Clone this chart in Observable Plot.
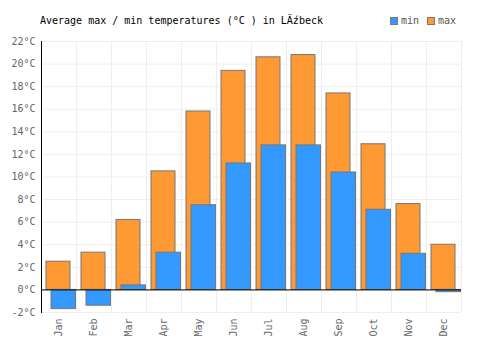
<!DOCTYPE html>
<html><head><meta charset="utf-8">
<script src="https://cdn.jsdelivr.net/npm/d3@7"></script>
<script src="https://cdn.jsdelivr.net/npm/@observablehq/plot@0.6"></script>
<style>
body{margin:0;background:#fff;}
#wrap{position:relative;width:500px;height:350px;font-family:"DejaVu Sans Mono",monospace;}
#title{position:absolute;left:40px;top:15px;font-size:10px;color:#000;white-space:pre;}
#legend{position:absolute;left:390px;top:15px;font-size:10px;color:#555;display:flex;align-items:center;}
.sw{display:inline-block;width:6px;height:6px;border:1px solid #777;margin-right:3px;}
svg{position:absolute;left:0;top:0;}
</style></head>
<body><div id="wrap"><div id="title"></div><div id="legend"></div></div>
<script>
const months = ["Jan","Feb","Mar","Apr","May","Jun","Jul","Aug","Sep","Oct","Nov","Dec"];
const maxTemps = [2.5, 3.3, 6.2, 10.5, 15.8, 19.4, 20.6, 20.8, 17.4, 12.9, 7.6, 4.0];
const minTemps = [-1.7, -1.4, 0.4, 3.3, 7.5, 11.2, 12.8, 12.8, 10.4, 7.1, 3.2, -0.2];
const yTicks = [-2, 0, 2, 4, 6, 8, 10, 12, 14, 16, 18, 20, 22];
const titleText = "Average max / min temperatures (°C ) in LĂźbeck";
const seriesNames = ["min", "max"];
const seriesColors = ["#3399ff", "#ff9933"];

const data = months.map((m, i) => ({month: m, min: minTemps[i], max: maxTemps[i]}));

document.getElementById("title").textContent = titleText;
const lg = document.getElementById("legend");
seriesNames.forEach((n, i) => {
  const s = document.createElement("span"); s.className = "sw"; s.style.background = seriesColors[i];
  const t = document.createElement("span"); t.textContent = n; t.style.marginRight = i === 0 ? "8px" : "0";
  lg.appendChild(s); lg.appendChild(t);
});

const chart = Plot.plot({
  width: 500, height: 350,
  marginTop: 41, marginBottom: 38, marginLeft: 41, marginRight: 39,
  style: {fontFamily: "DejaVu Sans Mono, monospace", fontSize: "10px", color: "#666", background: "transparent"},
  x: {domain: months, padding: 0, tickSize: 0, tickRotate: -90, tickPadding: 6, label: null},
  y: {domain: [-2, 22], ticks: yTicks, tickSize: 0, tickPadding: 6, tickFormat: d => d + "°C", label: null},
  marks: [
    Plot.gridY(yTicks, {stroke: "#eee", strokeOpacity: 1}),
    Plot.ruleX(months, {x: d => d, dx: -17.5, stroke: "#eee"}),
    Plot.ruleX(months.slice(-1), {x: d => d, dx: 17.5, stroke: "#eee"}),
    Plot.barY(data, {x: "month", y: "max", fill: seriesColors[1], stroke: "#777", strokeWidth: 1, insetLeft: 5, insetRight: 6}),
    Plot.barY(data, {x: "month", y: "min", fill: seriesColors[0], stroke: "#777", strokeWidth: 1, insetLeft: 10, insetRight: 0.5}),
    Plot.ruleY([0], {stroke: "#000", strokeWidth: 1}),
    Plot.frame({anchor: "left", stroke: "#000"}),
    Plot.axisY({ticks: yTicks, tickSize: 0, tickPadding: 6, tickFormat: d => d + "°C", fill: "#666"}),
    Plot.axisX({tickSize: 0, tickRotate: -90, tickPadding: 6, fill: "#666"})
  ]
});
document.getElementById("wrap").appendChild(chart);
</script></body></html>
